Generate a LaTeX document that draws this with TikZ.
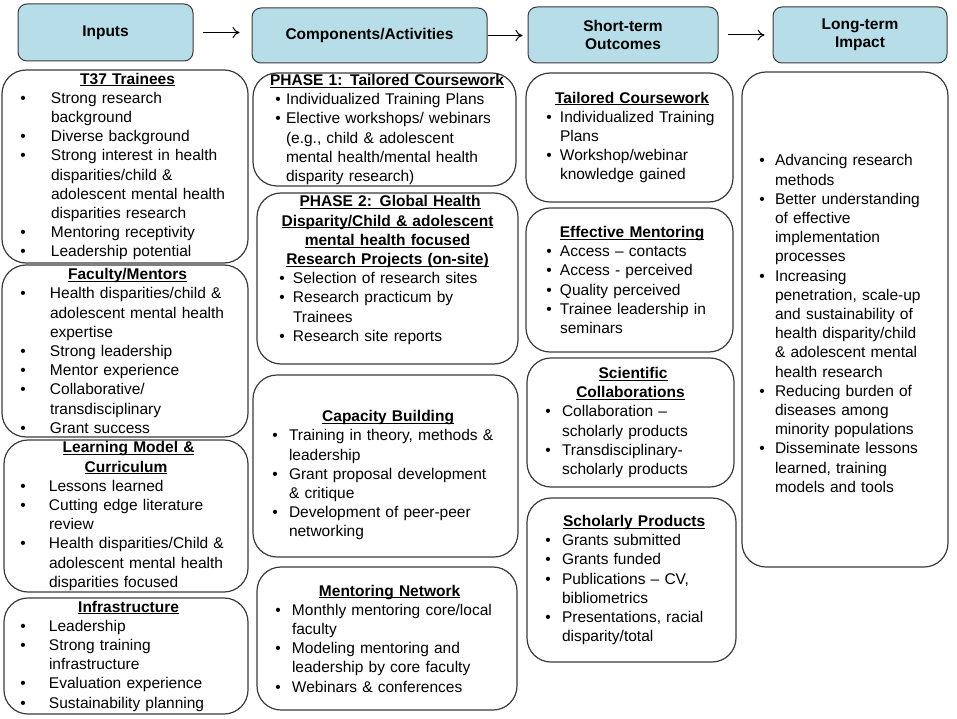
\documentclass[tikz,border=0pt]{standalone}
\usepackage{fontspec}
\setmainfont{Liberation Sans}
\usepackage{tikz}
\usetikzlibrary{arrows.meta}

\definecolor{headblue}{HTML}{B7DEE8}
\definecolor{linegray}{HTML}{3A3A3A}

\newlength{\ulinw}
\newcommand{\ulin}[1]{\leavevmode\settowidth{\ulinw}{#1}\rlap{\rule[-2.2pt]{\ulinw}{1pt}}#1}
\newcommand{\setind}[2]{\def\bulx{#1pt}\def\txtx{#2pt}}
\newcommand{\itm}{\par\hangindent=\txtx\hangafter=1\noindent\hspace*{\bulx}\makebox[0pt]{\textbullet}\hspace*{\dimexpr\txtx-\bulx\relax}\ignorespaces}
\newcommand{\ttl}[1]{{\centering\bfseries #1\par}}

\begin{document}
\begin{tikzpicture}[x=1pt, y=-1pt, font=\fontsize{15.5}{19.2}\selectfont,
    >={To[length=7pt, width=11pt]},
    head/.style 2 args={draw=linegray, line width=1pt, fill=headblue, rounded corners=9pt,
      align=center, minimum width=#1pt, minimum height=#2pt,
      font=\bfseries\fontsize{15.5}{18}\selectfont},
    box/.style 2 args={draw=linegray, line width=1.2pt, rounded corners=24pt, inner sep=0pt,
      text width=#1pt, minimum height=#2pt, execute at begin node=\raggedright}]
  \useasboundingbox (0,0) rectangle (957,719);

  \node [head={175}{57}] (inp) at (105.5,32.5) {Inputs};
  \node [head={235}{55}] (comp) at (369.5,35.5) {Components/Activities};
  \node [head={190}{56}] (sto) at (623,35) {Short-term\\Outcomes};
  \node [head={174}{56}] (lth) at (860,35) {Long-term\\Impact};
  \draw [->, line width=1pt, shorten <=9pt, shorten >=12pt] (inp.east) -- (inp.east -| comp.west);
  \draw [->, line width=1pt, shorten >=5pt] (comp.east) -- (comp.east -| sto.west);
  \draw [->, line width=1pt, shorten <=9pt, shorten >=8pt] (sto.east) -- (sto.east -| lth.west);

  \node [box={246}{193}] (t37) at (125,166.5) {\setind{21}{49}
    \ttl{\ulin{T37 Trainees}}
    \itm Strong research\newline background
    \itm Diverse background
    \itm Strong interest in health\newline disparities/child \&\newline adolescent mental health\newline disparities research
    \itm Mentoring receptivity
    \itm Leadership potential\par};
  \node [box={246}{172}] (fac) at (125,351) {\setind{21}{48}
    \ttl{\ulin{Faculty/Mentors}}
    \itm Health disparities/child \&\newline adolescent mental health\newline expertise
    \itm Strong leadership
    \itm Mentor experience
    \itm Collaborative/\newline transdisciplinary
    \itm Grant success\par};
  \node [box={244}{152}] (lrn) at (126,516) {\setind{19}{45}
    \ttl{\ulin{Learning Model \&}\\\ulin{Curriculum}}
    \itm Lessons learned
    \itm Cutting edge literature\newline review
    \itm Health disparities/Child \&\newline adolescent mental health\newline disparities focused\par};
  \node [box={244}{116}] (infra) at (126,656) {\setind{19}{45}
    \ttl{\ulin{Infrastructure}}
    \itm Leadership
    \itm Strong training\newline infrastructure
    \itm Evaluation experience
    \itm Sustainability planning\par};

  \node [box={263}{113}] (ph1) at (384.5,129.5) {\setind{25}{33}
    \ttl{\ulin{PHASE 1: Tailored Coursework}}
    \itm Individualized Training Plans
    \itm Elective workshops/ webinars\newline (e.g., child \& adolescent\newline mental health/mental health\newline disparity research)\par};
  \node [box={261}{171}] (ph2) at (387.5,278.5) {\setind{25}{36}
    \ttl{\ulin{PHASE 2: Global Health}\\\ulin{Disparity/Child \& adolescent}\\\ulin{mental health focused}\\\ulin{Research Projects (on-site)}}
    \itm Selection of research sites
    \itm Research practicum by\newline Trainees
    \itm Research site reports\rule[-20pt]{0pt}{20pt}\par};
  \node [box={265}{182}] (cap) at (385.5,466) {\setind{22}{36}
    \ttl{\rule{0pt}{30pt}\ulin{Capacity Building}}
    \itm Training in theory, methods \&\newline leadership
    \itm Grant proposal development\newline \& critique
    \itm Development of peer-peer\newline networking\par};
  \node [box={260}{143}] (mnet) at (387,638.5) {\setind{21}{35}
    \ttl{\ulin{Mentoring Network}}
    \itm Monthly mentoring core/local\newline faculty
    \itm Modeling mentoring and\newline leadership by core faculty
    \itm Webinars \& conferences\par};

  \node [box={207}{129}] (tail) at (629.5,137.5) {\setind{23}{34}
    \ttl{\ulin{Tailored Coursework}}
    \itm Individualized Training\newline Plans
    \itm Workshop/webinar\newline knowledge gained\par};
  \node [box={207}{144}] (eff) at (629.5,280) {\setind{23}{34}
    \ttl{\ulin{Effective Mentoring}}
    \itm Access – contacts
    \itm Access - perceived
    \itm Quality perceived
    \itm Trainee leadership in\newline seminars\par};
  \node [box={207}{129}] (sci) at (630.5,422.5) {\setind{21}{35}
    \ttl{\ulin{Scientific}\\\ulin{Collaborations}}
    \itm Collaboration –\newline scholarly products
    \itm Transdisciplinary-\newline scholarly products\par};
  \node [box={209}{164}] (schol) at (631.5,580) {\setind{21}{35}
    \ttl{\ulin{Scholarly Products}}
    \itm Grants submitted
    \itm Grants funded
    \itm Publications – CV,\newline bibliometrics
    \itm Presentations, racial\newline disparity/total\par};

  \node [box={206}{495}] (impact) at (845,319.5) {\setind{20}{33}
    \itm Advancing research\newline methods
    \itm Better understanding\newline of effective\newline implementation\newline processes
    \itm Increasing\newline penetration, scale-up\newline and sustainability of\newline health disparity/child\newline \& adolescent mental\newline health research
    \itm Reducing burden of\newline diseases among\newline minority populations
    \itm Disseminate lessons\newline learned, training\newline models and tools\par};
\end{tikzpicture}
\end{document}
